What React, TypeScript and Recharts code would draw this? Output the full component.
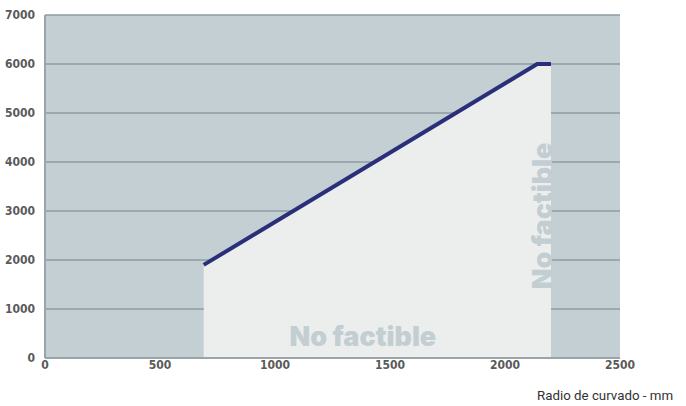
import React from 'react';
import { ComposedChart, Area, XAxis, YAxis, CartesianGrid, ReferenceDot } from 'recharts';

// feasible limit curve (radio de curvado in mm)
const radius = [690, 2140, 2200];
const limit = [1900, 6000, 6000];

const xTicks = [0, 500, 1000, 1500, 2000, 2500];
const yTicks = [0, 1000, 2000, 3000, 4000, 5000, 6000, 7000];

const chartData = radius.map((r, i) => ({ r, v: limit[i] }));

const tickStyle = {
    fontSize: 12,
    fontFamily: '"Liberation Sans Narrow", "DejaVu Sans Condensed", sans-serif',
    fontWeight: 'bold',
    fill: '#5a5a5a',
};

const noFactibleLabel = (angle: number) => ({
    value: 'No factible',
    position: 'center' as const,
    angle,
    fill: '#c3ced3',
    fontSize: 27,
    fontWeight: 900,
    fontFamily: 'Inter, "DejaVu Sans", sans-serif',
});

const App: React.FC = () => {
    return (
        <div style={{ position: 'absolute', left: 0, top: 0, width: 686, height: 406, background: '#ffffff' }}>
            <ComposedChart
                width={686}
                height={406}
                data={chartData}
                margin={{ top: 15, right: 66, left: 0, bottom: 0 }}
            >
                <CartesianGrid
                    fill="#c4cfd4"
                    stroke="#8f9ba0"
                    strokeWidth={1.5}
                    vertical={false}
                />
                <XAxis
                    type="number"
                    dataKey="r"
                    domain={[0, 2500]}
                    ticks={xTicks}
                    height={48}
                    tick={tickStyle}
                    tickLine={false}
                    tickSize={0}
                    axisLine={{ stroke: '#9aa5aa', strokeWidth: 2 }}
                    tickMargin={2}
                />
                <YAxis
                    type="number"
                    domain={[0, 7000]}
                    ticks={yTicks}
                    width={45}
                    tick={tickStyle}
                    tickLine={false}
                    axisLine={{ stroke: '#9aa5aa', strokeWidth: 2 }}
                    tickMargin={4}
                />
                <YAxis
                    yAxisId="right"
                    orientation="right"
                    width={0}
                    tick={false}
                    tickLine={false}
                    axisLine={{ stroke: '#9aa5aa', strokeWidth: 2 }}
                />
                <Area
                    type="linear"
                    dataKey="v"
                    fill="#eceeed"
                    fillOpacity={1}
                    stroke="#2b2f7a"
                    strokeWidth={4}
                    isAnimationActive={false}
                />
                <ReferenceDot x={1382} y={450} r={0} fill="none" stroke="none" label={noFactibleLabel(0)} />
                <ReferenceDot x={2162} y={2900} r={0} fill="none" stroke="none" label={noFactibleLabel(-90)} />
            </ComposedChart>
            <div
                style={{
                    position: 'absolute',
                    left: 537,
                    top: 388,
                    fontSize: 13.3,
                    lineHeight: '16px',
                    fontFamily: 'Roboto, sans-serif',
                    color: '#333333',
                    whiteSpace: 'nowrap',
                }}
            >
                Radio de curvado - mm
            </div>
        </div>
    );
};

export default App;
